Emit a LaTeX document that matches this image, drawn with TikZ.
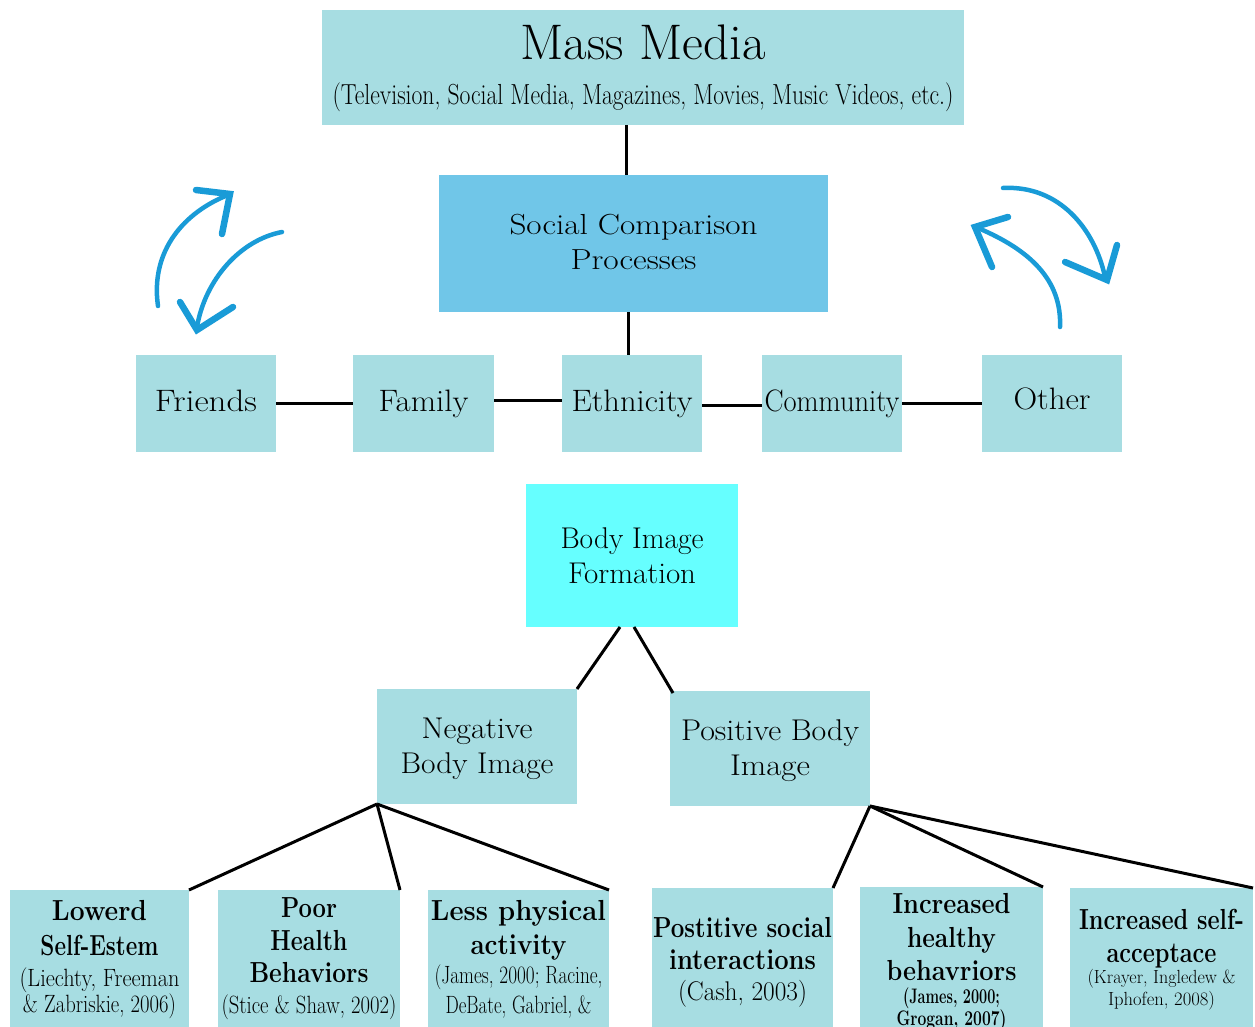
\documentclass[tikz,border=0pt]{standalone}
\usepackage{fontspec}
\usepackage{graphicx}
\definecolor{boxc}{RGB}{167,221,226}
\definecolor{scpc}{RGB}{112,198,232}
\definecolor{bifc}{RGB}{102,255,255}
\definecolor{arrowc}{RGB}{25,155,215}
\newsavebox\fwbox
\newcommand\fw[2]{\sbox\fwbox{#2}\resizebox{#1pt}{\ht\fwbox}{\usebox\fwbox}}
\newcommand\bxt[4]{\parbox[c][#2pt][t]{#1pt}{\centering\rule{0pt}{#3pt}\ignorespaces#4\par}}
\newcommand\cit[3]{{\mdseries\fontsize{#1}{34}\selectfont\fw{#2}{#3}}}
\newcommand\citb[3]{{\fontsize{#1}{34}\selectfont\fw{#2}{#3}}}
\tikzset{
  box/.style={fill=boxc, inner sep=0pt, outer sep=0pt, anchor=north west},
  rowfont/.style={font=\fontsize{31}{38}\selectfont},
  midfont/.style={font=\fontsize{30}{35}\selectfont},
  botfont/.style={font=\fontsize{29}{34}\selectfont\bfseries},
  conn/.style={draw=black, line width=3pt},
  harrow/.style={draw=arrowc, line width=4.5pt, line cap=round},
  hhead/.style={draw=arrowc, line width=6.5pt, line cap=round},
}
\begin{document}
\begin{tikzpicture}[x=1pt,y=-1pt]
\useasboundingbox (0,0) rectangle (1255,1027);

% top
\node[box, font=\fontsize{29}{45}\selectfont] (mm) at (322,10)
  {\bxt{642}{115}{50}{{\fontsize{50}{45}\selectfont\fw{245}{Mass Media}}\\\fw{621}{(Television, Social Media, Magazines, Movies, Music Videos, etc.)}}};
\node[box, fill=scpc, font=\fontsize{29}{36}\selectfont] (scp) at (439,175)
  {\bxt{389}{137}{59}{\fw{248}{Social Comparison}\\\fw{126}{Processes}}};

% row
\node[box, rowfont] (fr) at (136,355) {\bxt{140}{97}{56}{\fw{102}{Friends}}};
\node[box, rowfont] (fa) at (353,355) {\bxt{141}{97}{56}{\fw{90}{Family}}};
\node[box, rowfont] (et) at (562,355) {\bxt{140}{97}{56}{\fw{121}{Ethnicity}}};
\node[box, rowfont] (co) at (762,355) {\bxt{140}{97}{56}{\fw{135}{Community}}};
\node[box, rowfont] (ot) at (982,355) {\bxt{140}{97}{54}{\fw{77}{Other}}};

% middle
\node[box, fill=bifc, midfont] (bif) at (526,484)
  {\bxt{212}{143}{64}{\fw{143}{Body Image}\\\fw{128}{Formation}}};
\node[box, midfont] (neg) at (377,689)
  {\bxt{200}{115}{49}{\fw{111}{Negative}\\\fw{153}{Body Image}}};
\node[box, midfont] (pos) at (670,691)
  {\bxt{200}{115}{49}{\fw{178}{Positive Body}\\\fw{80}{Image}}};

% bottom
\node[box, botfont] (lo) at (10,890)
  {\bxt{179}{150}{30}{\fw{95}{Lowerd}\\[1pt]\fw{118}{Self-Estem}\\[-3pt]\cit{25}{160}{(Liechty, Freeman}\\[-8pt]\cit{25}{153}{\& Zabriskie, 2006)}}};
\node[box, botfont] (po) at (218,890)
  {\bxt{182}{150}{27}{\fw{56}{Poor}\\[-1pt]\fw{77}{Health}\\[-2pt]\fw{119}{Behaviors}\\[-3pt]\cit{25}{175}{(Stice \& Shaw, 2002)}}};
\node[box, botfont] (le) at (428,890)
  {\bxt{181}{150}{30}{\fw{175}{Less physical}\\[0pt]\fw{96}{activity}\\[-5pt]\cit{25}{168}{(James, 2000; Racine,}\\[-4pt]\cit{25}{146}{DeBate, Gabriel, \&}}};
\node[box, botfont] (ps) at (652,888)
  {\bxt{181}{150}{49}{\fw{179}{Postitive social}\\[-2pt]\fw{147}{interactions}\\[-3pt]\cit{27}{129}{(Cash, 2003)}}};
\node[box, botfont] (ih) at (860,887)
  {\bxt{183}{150}{26}{\fw{118}{Increased}\\[0pt]\fw{89}{healthy}\\[-1pt]\fw{130}{behavriors}\\[-11pt]\citb{21}{97}{(James, 2000;}\\[-12pt]\citb{21}{110}{Grogan, 2007)}}};
\node[box, botfont] (is) at (1070,888)
  {\bxt{183}{150}{41}{\fw{165}{Increased self-}\\[-1pt]\fw{110}{acceptace}\\[-13pt]\cit{19}{148}{(Krayer, Ingledew \&}\\[-12pt]\cit{19}{107}{Iphofen, 2008)}}};

% connectors
\draw[conn] ([xshift=-17pt]mm.south) -- ([xshift=-7.5pt]scp.north);
\draw[conn] ([xshift=-5.5pt]scp.south) -- ([xshift=-4pt]et.north);
\draw[conn] (fr.east) -- (fa.west);
\draw[conn] ([yshift=3.5pt]fa.east) -- ([yshift=3.5pt]et.west);
\draw[conn] ([yshift=-1.5pt]et.east) -- ([yshift=-1.5pt]co.west);
\draw[conn] (co.east) -- (ot.west);
\draw[conn] ([xshift=-12pt]bif.south) -- (neg.north east);
\draw[conn] ([xshift=2pt]bif.south) -- ([xshift=3pt,yshift=-2pt]pos.north west);
\draw[conn] (neg.south west) -- (lo.north east);
\draw[conn] (neg.south west) -- (po.north east);
\draw[conn] (neg.south west) -- (le.north east);
\draw[conn] (pos.south east) -- (ps.north east);
\draw[conn] (pos.south east) -- (ih.north east);
\draw[conn] (pos.south east) -- (is.north east);

% hand-drawn arrows, left pair
\draw[harrow] (158,306) .. controls (150,250) and (185,212) .. (228,195);
\draw[hhead] (196,190) -- (230,194) -- (222,234);
\draw[harrow] (282,232) .. controls (240,240) and (205,280) .. (197,327);
\draw[hhead] (180,302) -- (197,330) -- (233,307);
% right pair
\draw[harrow] (1060,327) .. controls (1062,280) and (1030,250) .. (978,228);
\draw[hhead] (1008,217) -- (975,227) -- (992,267);
\draw[harrow] (1003,188) .. controls (1060,185) and (1095,230) .. (1105,277);
\draw[hhead] (1117,245) -- (1107,280) -- (1065,262);
\end{tikzpicture}
\end{document}
